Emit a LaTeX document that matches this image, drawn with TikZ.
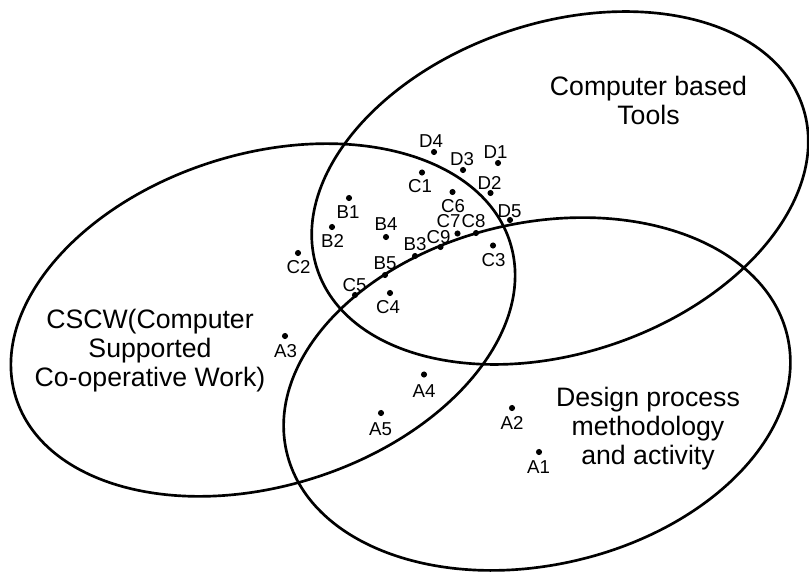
\documentclass[tikz,border=0pt]{standalone}
\usepackage{fontspec}
\setmainfont{Liberation Sans}
\begin{document}
\begin{tikzpicture}[x=0.75pt,y=-0.75pt,
  ell/.style={line width=2pt},
  dot/.style={circle,fill=black,inner sep=0pt,minimum size=4.6pt},
  lbl/.style={inner sep=0pt,font=\fontsize{14}{16}\selectfont},
  title/.style={inner sep=0pt,align=center,anchor=north,font=\fontsize{20}{21.75}\selectfont}]
\useasboundingbox (0,0) rectangle (809,571);
% ellipses
\draw[ell,rotate around={17.4:(263,320)}] (263,320) ellipse [x radius=259,y radius=166];
\draw[ell,rotate around={18.6:(560,188)}] (560,188) ellipse [x radius=256,y radius=165];
\draw[ell,rotate around={13:(537,394)}] (537,394) ellipse [x radius=257,y radius=171];
% titles
\node[title] (tools) at (648.5,75.5) {Computer based\\Tools};
\node[title] (design) at (648,386.5) {Design process\\methodology\\and activity};
\node[title] (cscw) at (150,308.5) {CSCW(Computer\\Supported\\Co-operative Work)};
% dots and labels
\node[dot] (D4) at (434,152) {};   \node[lbl] (D4l) at (431,141) {D4};
\node[dot] (D3) at (463,170) {};   \node[lbl] (D3l) at (462,159.5) {D3};
\node[dot] (D1) at (498,163) {};   \node[lbl] (D1l) at (495.5,152.5) {D1};
\node[dot] (C1) at (422,172.5) {}; \node[lbl] (C1l) at (420,186) {C1};
\node[dot] (D2) at (490.5,193) {}; \node[lbl] (D2l) at (489.5,182.5) {D2};
\node[dot] (C6) at (452.5,192) {}; \node[lbl] (C6l) at (453,206) {C6};
\node[dot] (B1) at (349,198) {};   \node[lbl] (B1l) at (348,212) {B1};
\node[dot] (D5) at (510,220) {};   \node[lbl] (D5l) at (509.5,211) {D5};
\node[dot] (B2) at (332,227) {};   \node[lbl] (B2l) at (332.5,241) {B2};
\node[dot] (B4) at (386,237) {};   \node[lbl] (B4l) at (386,224.5) {B4};
\node[dot] (C7) at (457.5,233.5) {}; \node[lbl] (C7l) at (448.5,221.5) {C7};
\node[dot] (C8) at (476,233) {};   \node[lbl] (C8l) at (473.5,221.5) {C8};
\node[dot] (C9) at (440.5,247) {}; \node[lbl] (C9l) at (438.5,237.5) {C9};
\node[dot] (B3) at (415,256) {};   \node[lbl] (B3l) at (415,244.5) {B3};
\node[dot] (C3) at (493,245.5) {}; \node[lbl] (C3l) at (493.5,260.5) {C3};
\node[dot] (C2) at (298,253) {};   \node[lbl] (C2l) at (298.5,267.5) {C2};
\node[dot] (B5) at (385,275) {};   \node[lbl] (B5l) at (385,263.5) {B5};
\node[dot] (C5) at (355,295) {};   \node[lbl] (C5l) at (354.5,285) {C5};
\node[dot] (C4) at (390,293) {};   \node[lbl] (C4l) at (388,307.5) {C4};
\node[dot] (A3) at (285,336) {};   \node[lbl] (A3l) at (285.5,351.5) {A3};
\node[dot] (A4) at (424,374.5) {}; \node[lbl] (A4l) at (424,391) {A4};
\node[dot] (A5) at (381,413) {};   \node[lbl] (A5l) at (380.5,429) {A5};
\node[dot] (A2) at (512,408) {};   \node[lbl] (A2l) at (512,422.5) {A2};
\node[dot] (A1) at (539,452) {};   \node[lbl] (A1l) at (538.5,467) {A1};
\end{tikzpicture}
\end{document}
